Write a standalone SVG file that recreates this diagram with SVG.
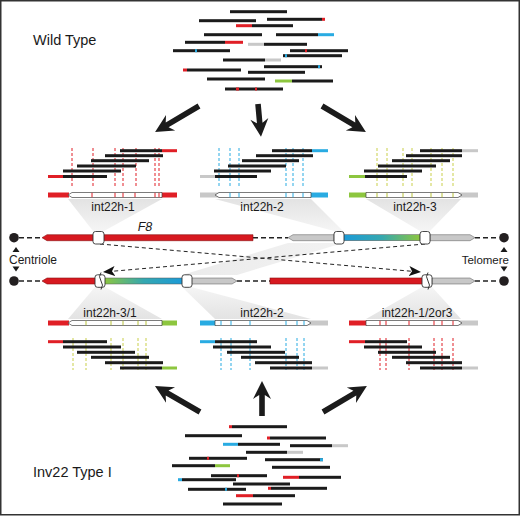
<svg xmlns="http://www.w3.org/2000/svg" width="520" height="516" viewBox="0 0 520 516">
<style>
.rd{fill:#e01f26}.bl{fill:#29abe2}.gn{fill:#8dc63f}.gy{fill:#c8c8c8}.bk{fill:#1b1b1b}
.lbl{font-family:"Liberation Sans",Arial,sans-serif;font-size:12px;fill:#1a1a1a;text-anchor:middle}
.big{font-family:"Liberation Sans",Arial,sans-serif;font-size:14.5px;fill:#1a1a1a}
.box{fill:#fff;stroke:#333;stroke-width:0.9}
.gbox{fill:#fff;stroke:#444;stroke-width:0.7}
.dr{stroke:#e01f26;stroke-width:1;stroke-dasharray:3 2}
.db{stroke:#29abe2;stroke-width:1;stroke-dasharray:3 2}
.dy{stroke:#c9cf4a;stroke-width:1;stroke-dasharray:3 2}
.tr{stroke:#e01f26;stroke-width:1}.tb{stroke:#29abe2;stroke-width:1}.ty{stroke:#b8c23a;stroke-width:1}
.chd{stroke:#222;stroke-width:1.4;stroke-dasharray:5 3;fill:none}
.arr{stroke:#222;stroke-width:1;stroke-dasharray:4 3;fill:none}
.bar{stroke:#555;stroke-width:0.5}
.fan{fill:url(#fg)}
.fanb{fill:url(#fgb)}
</style>
<defs>
<linearGradient id="fg" x1="0" y1="0" x2="0" y2="1"><stop offset="0" stop-color="#e3e3e3"/><stop offset="1" stop-color="#f5f5f5"/></linearGradient>
<linearGradient id="fgb" x1="0" y1="1" x2="0" y2="0"><stop offset="0" stop-color="#e3e3e3"/><stop offset="1" stop-color="#f5f5f5"/></linearGradient>
<linearGradient id="fgm" x1="0" y1="0" x2="1" y2="0"><stop offset="0" stop-color="#ebebeb"/><stop offset="1" stop-color="#f2f2f2"/></linearGradient>
<linearGradient id="bg1" x1="0" y1="0" x2="1" y2="0"><stop offset="0" stop-color="#1b9ad8"/><stop offset="0.5" stop-color="#35a8b0"/><stop offset="1" stop-color="#8dc63f"/></linearGradient>
<linearGradient id="bg2" x1="0" y1="0" x2="1" y2="0"><stop offset="0" stop-color="#8dc63f"/><stop offset="0.5" stop-color="#35a8b0"/><stop offset="1" stop-color="#1b9ad8"/></linearGradient>
<marker id="ah" viewBox="0 0 12 10" refX="11" refY="5" markerWidth="12" markerHeight="10" markerUnits="userSpaceOnUse" orient="auto">
<path d="M0,0 L12,5 L0,10 L3,5 Z" fill="#111"/>
</marker>
</defs>
<rect x="0" y="0" width="520" height="516" fill="#fff"/>

<g id="fans">
<polygon class="fan" points="68,199 162,199 104,231 93,231"/>
<polygon class="fan" points="215,199 311,199 343,231 334,231"/>
<polygon class="fan" points="366,199 461,199 430,231 420,231"/>
<polygon fill="url(#fgm)" points="288,243 343,243 237,275 182,275"/>
<polygon class="fanb" points="95,287 105,287 162,319 68,319"/>
<polygon class="fanb" points="182,287 191,287 311,319 215,319"/>
<polygon class="fanb" points="422,287 432,287 461,319 366,319"/>
</g>

<g id="wildtype-reads">
<rect class="bk" x="230" y="10.2" width="57" height="3"/>
<rect class="bk" x="199" y="19.2" width="57" height="3"/>
<rect class="bk" x="267" y="17.8" width="55" height="3"/><rect class="rd" x="322" y="17.8" width="3" height="3"/>
<rect class="rd" x="236" y="24.2" width="16" height="3"/><rect class="bk" x="252" y="24.2" width="41" height="3"/>
<rect class="bk" x="204" y="33.2" width="58" height="3"/>
<rect class="bk" x="276" y="33.2" width="42" height="3"/><rect class="bl" x="318" y="33.2" width="16" height="3"/>
<rect class="bk" x="185" y="40.8" width="40" height="3"/><rect class="rd" x="225" y="40.8" width="18" height="3"/>
<rect class="gy" x="248" y="42.8" width="16" height="3"/><rect class="bk" x="264" y="42.8" width="43" height="3"/>
<rect class="bk" x="173" y="49.2" width="57" height="3"/><rect class="bl" x="195" y="49.2" width="2" height="3"/>
<rect class="bk" x="290" y="49.2" width="58" height="3"/><rect class="rd" x="305" y="49.2" width="2" height="3"/>
<rect class="bk" x="283" y="54.2" width="59" height="3"/><rect class="bl" x="285" y="54.2" width="2" height="3"/>
<rect class="bk" x="223" y="58.5" width="42" height="3"/><rect class="gy" x="265" y="58.5" width="16" height="3"/>
<rect class="bk" x="264" y="65.2" width="58" height="3"/><rect class="bl" x="318" y="65.2" width="2" height="3"/>
<rect class="rd" x="183" y="68.5" width="4" height="3"/><rect class="bk" x="187" y="68.5" width="54" height="3"/>
<rect class="bk" x="248" y="70.8" width="57" height="3"/>
<rect class="bk" x="207" y="77.5" width="58" height="3"/>
<rect class="gn" x="275" y="79.5" width="17" height="3"/><rect class="bk" x="292" y="79.5" width="41" height="3"/>
<rect class="bk" x="225" y="87.5" width="58" height="3"/><rect class="rd" x="236" y="87.5" width="3" height="3"/><rect class="rd" x="255" y="87.5" width="2" height="3"/>
</g>

<g id="inv22-reads">
<rect class="rd" x="229" y="425.2" width="3" height="3"/><rect class="bk" x="232" y="425.2" width="55" height="3"/>
<rect class="bk" x="185" y="434.2" width="57" height="3"/>
<rect class="rd" x="267" y="436.5" width="3" height="3"/><rect class="bk" x="270" y="436.5" width="56" height="3"/>
<rect class="bl" x="223" y="442.8" width="15" height="3"/><rect class="bk" x="238" y="442.8" width="42" height="3"/>
<rect class="bk" x="290" y="444.2" width="42" height="3"/><rect class="gy" x="332" y="444.2" width="16" height="3"/>
<rect class="bk" x="246" y="450.8" width="41" height="3"/><rect class="gy" x="287" y="450.8" width="16" height="3"/>
<rect class="bk" x="189" y="456.8" width="58" height="3"/><rect class="rd" x="207" y="456.8" width="2" height="3"/>
<rect class="bk" x="265" y="458.2" width="58" height="3"/><rect class="bl" x="320" y="458.2" width="3" height="3"/>
<rect class="bk" x="172" y="464.2" width="43" height="3"/><rect class="gn" x="215" y="464.2" width="15" height="3"/>
<rect class="bk" x="272" y="465.8" width="58" height="3"/>
<rect class="bk" x="211" y="474.2" width="56" height="3"/><rect class="rd" x="237" y="474.2" width="2" height="3"/>
<rect class="rd" x="283" y="475.8" width="16" height="3"/><rect class="bk" x="299" y="475.8" width="42" height="3"/>
<rect class="bl" x="178" y="478.2" width="4" height="3"/><rect class="bk" x="182" y="478.2" width="54" height="3"/>
<rect class="bk" x="233" y="482.5" width="57" height="3"/>
<rect class="rd" x="268" y="486.8" width="3" height="3"/><rect class="bk" x="271" y="486.8" width="56" height="3"/>
<rect class="bk" x="188" y="487.8" width="58" height="3"/><rect class="bl" x="225" y="487.8" width="2" height="3"/>
<rect class="rd" x="236" y="494.2" width="17" height="3"/><rect class="bk" x="253" y="494.2" width="42" height="3"/>
<rect class="bk" x="223" y="502.5" width="59" height="3"/>
</g>

<g id="connectors">
<path d="M0,-2.8 H37 L33,-9 L51,0 L33,9 L37,2.8 H0 Z" fill="#1b1b1b" transform="translate(199,106) rotate(149.4)"/>
<path d="M0,-2.8 H19 L15,-9 L33,0 L15,9 L19,2.8 H0 Z" fill="#1b1b1b" transform="translate(258,104) rotate(84.8)"/>
<path d="M0,-2.8 H37 L33,-9 L51,0 L33,9 L37,2.8 H0 Z" fill="#1b1b1b" transform="translate(322,106) rotate(30.6)"/>
<path d="M0,-2.8 H38 L34,-9 L52,0 L34,9 L38,2.8 H0 Z" fill="#1b1b1b" transform="translate(200,412) rotate(-150)"/>
<path d="M0,-2.8 H21 L17,-9 L35,0 L17,9 L21,2.8 H0 Z" fill="#1b1b1b" transform="translate(262,416) rotate(-90)"/>
<path d="M0,-2.8 H37 L33,-9 L51,0 L33,9 L37,2.8 H0 Z" fill="#1b1b1b" transform="translate(323,412) rotate(-30.6)"/>
<line class="arr" x1="100" y1="244" x2="420" y2="272" marker-end="url(#ah)"/>
<line class="arr" x1="425" y1="244" x2="104" y2="272" marker-end="url(#ah)"/>
</g>

<g id="block-int22h-1">
<line class="dr" x1="72" y1="148" x2="72" y2="187"/><line class="dr" x1="93" y1="148" x2="93" y2="187"/><line class="dr" x1="115" y1="148" x2="115" y2="187"/><line class="dr" x1="123" y1="148" x2="123" y2="187"/><line class="dr" x1="136" y1="148" x2="136" y2="187"/><line class="dr" x1="155" y1="148" x2="155" y2="187"/><line class="dr" x1="159" y1="148" x2="159" y2="187"/>
<rect class="bk" x="120" y="149.2" width="42" height="3"/><rect class="rd" x="162" y="149.2" width="15" height="3"/>
<rect class="bk" x="105" y="154.2" width="58" height="3"/>
<rect class="bk" x="91" y="159.2" width="58" height="3"/>
<rect class="bk" x="77" y="164.5" width="59" height="3"/>
<rect class="bk" x="63" y="169.5" width="58" height="3"/>
<rect class="rd" x="48" y="175" width="15" height="3"/><rect class="bk" x="63" y="175" width="44" height="3"/>
<rect class="rd" x="48" y="192.5" width="21" height="5"/><rect class="rd" x="161" y="192.5" width="16" height="5"/>
<path class="gbox" d="M72,192.5 H162 V197.5 H72 L68,195 Z"/>
<line class="tr" x1="92" y1="192.8" x2="92" y2="197.2"/><line class="tr" x1="115" y1="192.8" x2="115" y2="197.2"/><line class="tr" x1="123" y1="192.8" x2="123" y2="197.2"/><line class="tr" x1="135" y1="192.8" x2="135" y2="197.2"/><line class="tr" x1="155" y1="192.8" x2="155" y2="197.2"/><line class="tr" x1="159" y1="192.8" x2="159" y2="197.2"/>
<text class="lbl" x="113" y="211">int22h-1</text>
</g>

<g id="block-int22h-2-top">
<line class="db" x1="219" y1="148" x2="219" y2="187"/><line class="db" x1="230" y1="148" x2="230" y2="187"/><line class="db" x1="239" y1="148" x2="239" y2="187"/><line class="db" x1="286" y1="148" x2="286" y2="187"/><line class="db" x1="293" y1="148" x2="293" y2="187"/><line class="db" x1="303" y1="148" x2="303" y2="187"/>
<rect class="bk" x="272" y="149.2" width="40" height="3"/><rect class="bl" x="312" y="149.2" width="16" height="3"/>
<rect class="bk" x="256" y="154.2" width="57" height="3"/>
<rect class="bk" x="242" y="159.2" width="57" height="3"/>
<rect class="bk" x="228" y="164.5" width="58" height="3"/>
<rect class="bk" x="214" y="169.5" width="57" height="3"/>
<rect class="gy" x="200" y="175" width="15" height="3"/><rect class="bk" x="215" y="175" width="42" height="3"/>
<rect class="gy" x="200" y="192.5" width="20" height="5"/><rect class="bl" x="310" y="192.5" width="18" height="5"/>
<path class="gbox" d="M219,192.5 H311 V197.5 H219 L215,195 Z"/>
<line class="tb" x1="230" y1="192.8" x2="230" y2="197.2"/><line class="tb" x1="239" y1="192.8" x2="239" y2="197.2"/><line class="tb" x1="286" y1="192.8" x2="286" y2="197.2"/><line class="tb" x1="293" y1="192.8" x2="293" y2="197.2"/><line class="tb" x1="303" y1="192.8" x2="303" y2="197.2"/>
<text class="lbl" x="262" y="211">int22h-2</text>
</g>

<g id="block-int22h-3">
<line class="dy" x1="377" y1="148" x2="377" y2="187"/><line class="dy" x1="387" y1="148" x2="387" y2="187"/><line class="dy" x1="403" y1="148" x2="403" y2="187"/><line class="dy" x1="412" y1="148" x2="412" y2="187"/><line class="dy" x1="431" y1="148" x2="431" y2="187"/><line class="dy" x1="442" y1="148" x2="442" y2="187"/><line class="dy" x1="453" y1="148" x2="453" y2="187"/>
<rect class="bk" x="420" y="149.2" width="42" height="3"/><rect class="gy" x="462" y="149.2" width="16" height="3"/>
<rect class="bk" x="406" y="154.2" width="56" height="3"/>
<rect class="bk" x="392" y="159.2" width="58" height="3"/>
<rect class="bk" x="378" y="164.5" width="58" height="3"/>
<rect class="bk" x="364" y="169.5" width="58" height="3"/>
<rect class="gn" x="349" y="175" width="16" height="3"/><rect class="bk" x="365" y="175" width="42" height="3"/>
<rect class="gn" x="349" y="192.5" width="18" height="5"/><rect class="gy" x="458" y="192.5" width="20" height="5"/>
<path class="gbox" d="M366,192.5 H458 L462,195 L458,197.5 H366 Z"/>
<line class="ty" x1="377" y1="192.8" x2="377" y2="197.2"/><line class="ty" x1="387" y1="192.8" x2="387" y2="197.2"/><line class="ty" x1="403" y1="192.8" x2="403" y2="197.2"/><line class="ty" x1="412" y1="192.8" x2="412" y2="197.2"/><line class="ty" x1="431" y1="192.8" x2="431" y2="197.2"/><line class="ty" x1="442" y1="192.8" x2="442" y2="197.2"/><line class="ty" x1="453" y1="192.8" x2="453" y2="197.2"/>
<text class="lbl" x="415" y="211">int22h-3</text>
</g>

<g id="chromosome-wildtype">
<line class="chd" x1="19" y1="237.7" x2="42" y2="237.7"/>
<line class="chd" x1="253" y1="237.7" x2="288" y2="237.7"/>
<line class="chd" x1="475" y1="237.7" x2="499" y2="237.7"/>
<path d="M47,234.7 H253 V240.7 H47 L42,237.7 Z" fill="#d71920" stroke="#8a1010" stroke-width="0.6"/>
<path d="M293,234.7 H334 V240.7 H293 L288,237.7 Z" fill="#c8c8c8" class="bar"/>
<rect x="343" y="234.7" width="77" height="6" fill="url(#bg1)" class="bar"/>
<path d="M430,234.7 H470 L475,237.7 L470,240.7 H430 Z" fill="#c8c8c8" class="bar"/>
<rect class="box" x="93" y="231.5" width="11" height="12.5" rx="2.5"/>
<rect class="box" x="334" y="231.5" width="10" height="12.5" rx="2.5"/>
<rect class="box" x="420" y="231.5" width="10" height="12.5" rx="2.5"/>
<text x="145" y="231" font-family="'Liberation Sans',Arial,sans-serif" font-size="12.5" font-style="italic" fill="#1a1a1a" text-anchor="middle">F8</text>
</g>

<g id="chromosome-inv22">
<line class="chd" x1="19" y1="281" x2="42" y2="281"/>
<line class="chd" x1="237" y1="281" x2="270" y2="281"/>
<line class="chd" x1="475" y1="281" x2="499" y2="281"/>
<path d="M47,278 H96 V284 H47 L42,281 Z" fill="#d71920" stroke="#8a1010" stroke-width="0.6"/>
<rect x="104" y="278" width="79" height="6" fill="url(#bg2)" class="bar"/>
<path d="M191,278 H232 L237,281 L232,284 H191 Z" fill="#c8c8c8" class="bar"/>
<rect x="270" y="278" width="153" height="6" fill="#d71920" stroke="#8a1010" stroke-width="0.6"/>
<path d="M432,278 H470 L475,281 L470,284 H432 Z" fill="#c8c8c8" class="bar"/>
<rect class="box" x="95" y="274.8" width="10" height="12.5" rx="2.5"/>
<path d="M101,272.5 q-3,4 0,8.5 q3,4 0,8.5" fill="none" stroke="#222" stroke-width="0.9"/>
<rect class="box" x="182" y="274.8" width="10" height="12.5" rx="2.5"/>
<rect class="box" x="422" y="274.8" width="10" height="12.5" rx="2.5"/>
<path d="M428,272.5 q-3,4 0,8.5 q3,4 0,8.5" fill="none" stroke="#222" stroke-width="0.9"/>
</g>

<g id="ends">
<circle cx="14" cy="237.7" r="4.8" fill="#231f20"/>
<circle cx="14" cy="281" r="4.8" fill="#231f20"/>
<circle cx="504" cy="237.7" r="4.8" fill="#231f20"/>
<circle cx="504" cy="281" r="4.8" fill="#231f20"/>
<polygon points="12.5,252 16,247 19.5,252" fill="#1a1a1a"/>
<polygon points="12.5,266.5 19.5,266.5 16,271.5" fill="#1a1a1a"/>
<polygon points="500.5,252 504,247 507.5,252" fill="#1a1a1a"/>
<polygon points="500.5,266.5 507.5,266.5 504,271.5" fill="#1a1a1a"/>
<text x="9" y="264" font-family="'Liberation Sans',Arial,sans-serif" font-size="12" fill="#1a1a1a">Centriole</text>
<text x="509" y="264" font-family="'Liberation Sans',Arial,sans-serif" font-size="11.5" fill="#1a1a1a" text-anchor="end">Telomere</text>
</g>

<g id="block-int22h-3-1">
<line class="dy" x1="73" y1="338" x2="73" y2="370"/><line class="dy" x1="86" y1="338" x2="86" y2="370"/><line class="dy" x1="111" y1="338" x2="111" y2="370"/><line class="dy" x1="123" y1="338" x2="123" y2="370"/><line class="dy" x1="138" y1="338" x2="138" y2="370"/><line class="dy" x1="146" y1="338" x2="146" y2="370"/>
<rect class="rd" x="48" y="340.2" width="15" height="3"/><rect class="bk" x="63" y="340.2" width="44" height="3"/>
<rect class="bk" x="63" y="345.5" width="58" height="3"/>
<rect class="bk" x="77" y="350.8" width="58" height="3"/>
<rect class="bk" x="91" y="355.8" width="58" height="3"/>
<rect class="bk" x="105" y="361.2" width="58" height="3"/>
<rect class="bk" x="120" y="366.5" width="42" height="3"/><rect class="gn" x="162" y="366.5" width="15" height="3"/>
<rect class="rd" x="48" y="320.5" width="21" height="5"/><rect class="gn" x="161" y="320.5" width="16" height="5"/>
<path class="gbox" d="M72,320.5 H162 V325.5 H72 L68,323 Z"/>
<line class="ty" x1="86" y1="320.8" x2="86" y2="325.2"/><line class="ty" x1="111" y1="320.8" x2="111" y2="325.2"/><line class="ty" x1="123" y1="320.8" x2="123" y2="325.2"/><line class="ty" x1="138" y1="320.8" x2="138" y2="325.2"/><line class="ty" x1="146" y1="320.8" x2="146" y2="325.2"/>
<text class="lbl" x="110" y="317">int22h-3/1</text>
</g>

<g id="block-int22h-2-bottom">
<line class="db" x1="221" y1="338" x2="221" y2="370"/><line class="db" x1="231" y1="338" x2="231" y2="370"/><line class="db" x1="250" y1="338" x2="250" y2="370"/><line class="db" x1="286" y1="338" x2="286" y2="370"/><line class="db" x1="297" y1="338" x2="297" y2="370"/><line class="db" x1="304" y1="338" x2="304" y2="370"/>
<rect class="bl" x="200" y="340.2" width="15" height="3"/><rect class="bk" x="215" y="340.2" width="42" height="3"/>
<rect class="bk" x="213" y="345.5" width="58" height="3"/>
<rect class="bk" x="227" y="350.8" width="58" height="3"/>
<rect class="bk" x="241" y="355.8" width="58" height="3"/>
<rect class="bk" x="255" y="361.2" width="57" height="3"/>
<rect class="bk" x="270" y="366.5" width="42" height="3"/><rect class="gy" x="312" y="366.5" width="16" height="3"/>
<rect class="bl" x="200" y="320.5" width="16" height="5"/><rect class="gy" x="307" y="320.5" width="21" height="5"/>
<path class="gbox" d="M215,320.5 H307 L311,323 L307,325.5 H215 Z"/>
<line class="tb" x1="221" y1="320.8" x2="221" y2="325.2"/><line class="tb" x1="231" y1="320.8" x2="231" y2="325.2"/><line class="tb" x1="250" y1="320.8" x2="250" y2="325.2"/><line class="tb" x1="286" y1="320.8" x2="286" y2="325.2"/><line class="tb" x1="297" y1="320.8" x2="297" y2="325.2"/><line class="tb" x1="304" y1="320.8" x2="304" y2="325.2"/>
<text class="lbl" x="262" y="317">int22h-2</text>
</g>

<g id="block-int22h-1-2or3">
<line class="dr" x1="380" y1="338" x2="380" y2="370"/><line class="dr" x1="386" y1="338" x2="386" y2="370"/><line class="dr" x1="409" y1="338" x2="409" y2="370"/><line class="dr" x1="434" y1="338" x2="434" y2="370"/><line class="dr" x1="442" y1="338" x2="442" y2="370"/><line class="dr" x1="453" y1="338" x2="453" y2="370"/>
<rect class="rd" x="349" y="340.2" width="16" height="3"/><rect class="bk" x="365" y="340.2" width="42" height="3"/>
<rect class="bk" x="364" y="345.5" width="58" height="3"/>
<rect class="bk" x="378" y="350.8" width="58" height="3"/>
<rect class="bk" x="392" y="355.8" width="58" height="3"/>
<rect class="bk" x="406" y="361.2" width="56" height="3"/>
<rect class="bk" x="420" y="366.5" width="42" height="3"/><rect class="gy" x="462" y="366.5" width="16" height="3"/>
<rect class="rd" x="349" y="320.5" width="18" height="5"/><rect class="gy" x="458" y="320.5" width="20" height="5"/>
<path class="gbox" d="M366,320.5 H458 L462,323 L458,325.5 H366 Z"/>
<line class="tr" x1="380" y1="320.8" x2="380" y2="325.2"/><line class="tr" x1="386" y1="320.8" x2="386" y2="325.2"/><line class="tr" x1="409" y1="320.8" x2="409" y2="325.2"/><line class="tr" x1="434" y1="320.8" x2="434" y2="325.2"/><line class="tr" x1="442" y1="320.8" x2="442" y2="325.2"/><line class="tr" x1="453" y1="320.8" x2="453" y2="325.2"/>
<text class="lbl" x="417" y="317">int22h-1/2or3</text>
</g>

<text class="big" x="33" y="45">Wild Type</text>
<text class="big" x="33" y="477">Inv22 Type I</text>
<rect x="0.75" y="0.75" width="518.5" height="514" fill="none" stroke="#333" stroke-width="1.5"/>
</svg>
